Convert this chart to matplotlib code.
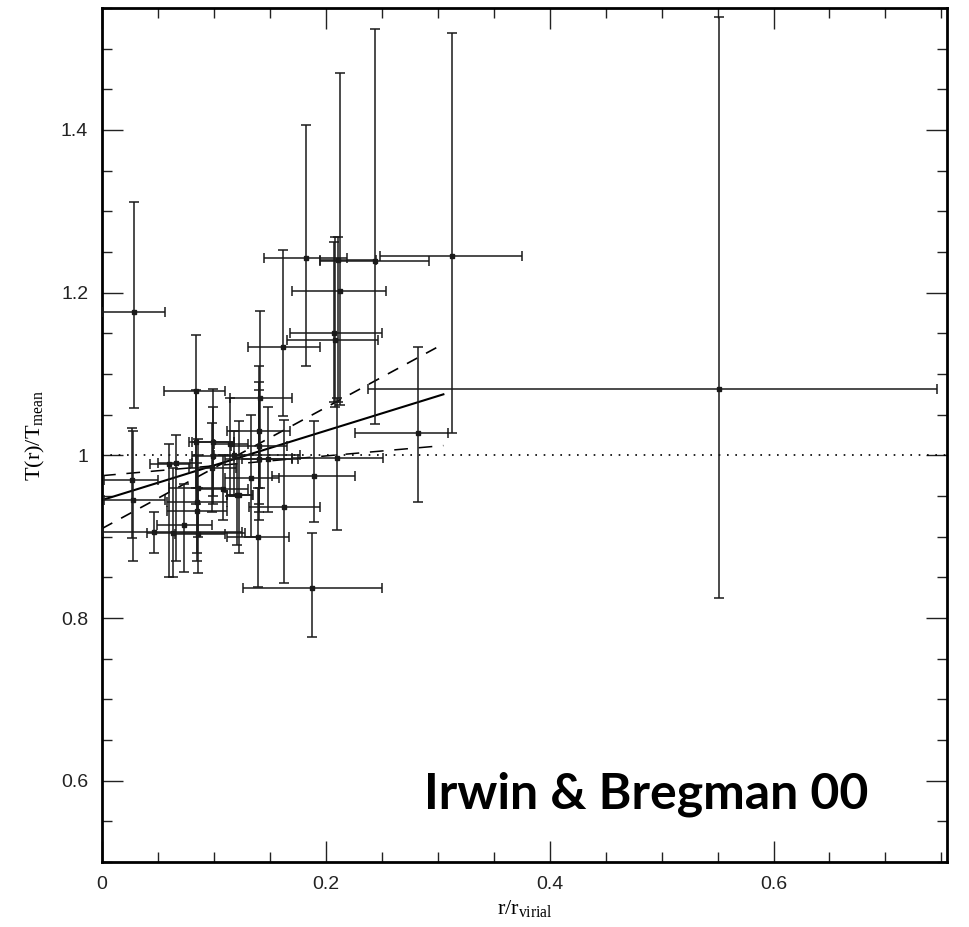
import numpy as np
import matplotlib.pyplot as plt
from matplotlib.ticker import MultipleLocator

# measured points: r/r_vir, T/Tmean, and the ends of the error bars
r = np.array([0.029, 0.551, 0.313, 0.244, 0.182, 0.211, 0.213, 0.207, 0.208, 0.162,
              0.141, 0.282, 0.210, 0.189, 0.163, 0.188, 0.139, 0.122, 0.140, 0.140,
              0.140, 0.148, 0.099, 0.099, 0.114, 0.108, 0.084, 0.084, 0.086, 0.060,
              0.066, 0.085, 0.085, 0.073, 0.063, 0.086, 0.027, 0.028, 0.121, 0.098,
              0.133, 0.046, 0.118])
t = np.array([1.176, 1.082, 1.245, 1.239, 1.242, 1.240, 1.202, 1.150, 1.142, 1.133,
              1.071, 1.028, 0.997, 0.974, 0.936, 0.837, 0.900, 0.951, 1.030, 1.012,
              0.995, 0.995, 0.999, 1.016, 1.014, 0.958, 1.079, 1.016, 0.960, 0.989,
              0.990, 0.943, 0.932, 0.914, 0.905, 0.903, 0.970, 0.945, 0.951, 0.985,
              0.972, 0.906, 1.000])
r_lo = np.array([0.000, 0.238, 0.248, 0.195, 0.145, 0.195, 0.170, 0.168, 0.165, 0.130,
                 0.114, 0.226, 0.170, 0.152, 0.131, 0.126, 0.112, 0.112, 0.112, 0.115,
                 0.110, 0.125, 0.080, 0.080, 0.100, 0.085, 0.055, 0.078, 0.060, 0.043,
                 0.050, 0.058, 0.058, 0.049, 0.040, 0.065, 0.002, 0.002, 0.112, 0.078,
                 0.110, 0.000, 0.100])
r_hi = np.array([0.056, 0.746, 0.375, 0.292, 0.219, 0.245, 0.254, 0.250, 0.247, 0.195,
                 0.170, 0.309, 0.251, 0.226, 0.195, 0.250, 0.167, 0.135, 0.168, 0.165,
                 0.170, 0.175, 0.118, 0.118, 0.130, 0.130, 0.110, 0.118, 0.110, 0.079,
                 0.080, 0.112, 0.112, 0.098, 0.128, 0.110, 0.050, 0.056, 0.134, 0.120,
                 0.158, 0.125, 0.177])
t_lo = np.array([1.058, 0.825, 1.028, 1.038, 1.110, 1.065, 1.062, 1.065, 1.060, 1.048,
                 0.960, 0.943, 0.908, 0.918, 0.843, 0.777, 0.838, 0.880, 0.940, 0.930,
                 0.920, 0.930, 0.940, 0.950, 0.950, 0.920, 0.960, 0.940, 0.900, 0.851,
                 0.870, 0.880, 0.870, 0.857, 0.851, 0.855, 0.898, 0.870, 0.890, 0.930,
                 0.900, 0.880, 0.950])
t_hi = np.array([1.311, 1.539, 1.519, 1.524, 1.406, 1.268, 1.470, 1.262, 1.268, 1.252,
                 1.177, 1.133, 1.070, 1.042, 1.044, 0.904, 0.960, 1.042, 1.110, 1.090,
                 1.080, 1.060, 1.060, 1.081, 1.070, 1.000, 1.148, 1.080, 1.020, 1.014,
                 1.025, 1.000, 0.990, 0.965, 0.985, 0.960, 1.034, 1.030, 1.000, 1.040,
                 1.050, 0.930, 1.030])

# fitted relations over the sampled range
fit_r = np.array([0.0, 0.305])
fit_solid = np.array([0.945, 1.075])
fit_dash = np.array([0.910, 1.137])
fit_longdash = np.array([0.975, 1.012])

fig = plt.figure(figsize=(9.69, 9.27), dpi=100)
ax = fig.add_axes([0.1053, 0.0701, 0.8720, 0.9213])

ax.errorbar(r, t, xerr=[r - r_lo, r_hi - r], yerr=[t - t_lo, t_hi - t],
            fmt='s', ms=3.5, color='#1a1a1a', ecolor='#1a1a1a', elinewidth=1.1,
            capsize=3.5, capthick=1.1, zorder=3)

ax.plot(fit_r, fit_solid, color='k', lw=1.5)
ax.plot(fit_r, fit_dash, color='k', lw=1.2, dashes=(7, 6))
ax.plot(fit_r, fit_longdash, color='k', lw=1.1, dashes=(9, 7))
ax.axhline(1.0, color='k', lw=1.2, ls=(0, (1, 4)))

ax.set_xlim(0, 0.755)
ax.set_ylim(0.5, 1.55)
ax.xaxis.set_major_locator(MultipleLocator(0.2))
ax.xaxis.set_minor_locator(MultipleLocator(0.05))
ax.yaxis.set_major_locator(MultipleLocator(0.2))
ax.yaxis.set_minor_locator(MultipleLocator(0.05))
ax.set_xticks([0, 0.2, 0.4, 0.6])
ax.set_xticklabels(['0', '0.2', '0.4', '0.6'])
ax.set_yticks([0.6, 0.8, 1.0, 1.2, 1.4])
ax.set_yticklabels(['0.6', '0.8', '1', '1.2', '1.4'])
ax.tick_params(which='both', direction='in', top=True, right=True, width=1.0,
               labelsize=14, pad=10, colors='#222222')
ax.tick_params(which='major', length=15)
ax.tick_params(which='minor', length=7)
for lab in ax.get_xticklabels() + ax.get_yticklabels():
    lab.set_family('Liberation Sans')
for s in ax.spines.values():
    s.set_linewidth(2.0)

ax.set_xlabel(r'r/r$_{\mathregular{virial}}$', family='Liberation Serif', fontsize=16, labelpad=4)
ax.set_ylabel(r'T(r)/T$_{\mathregular{mean}}$', family='Liberation Serif', fontsize=16, labelpad=10)

ax.text(0.486, 0.583, 'Irwin & Bregman 00', ha='center', va='center',
        fontsize=36, fontweight='bold', family='Lato')

fig.savefig('out.png', dpi=100)
